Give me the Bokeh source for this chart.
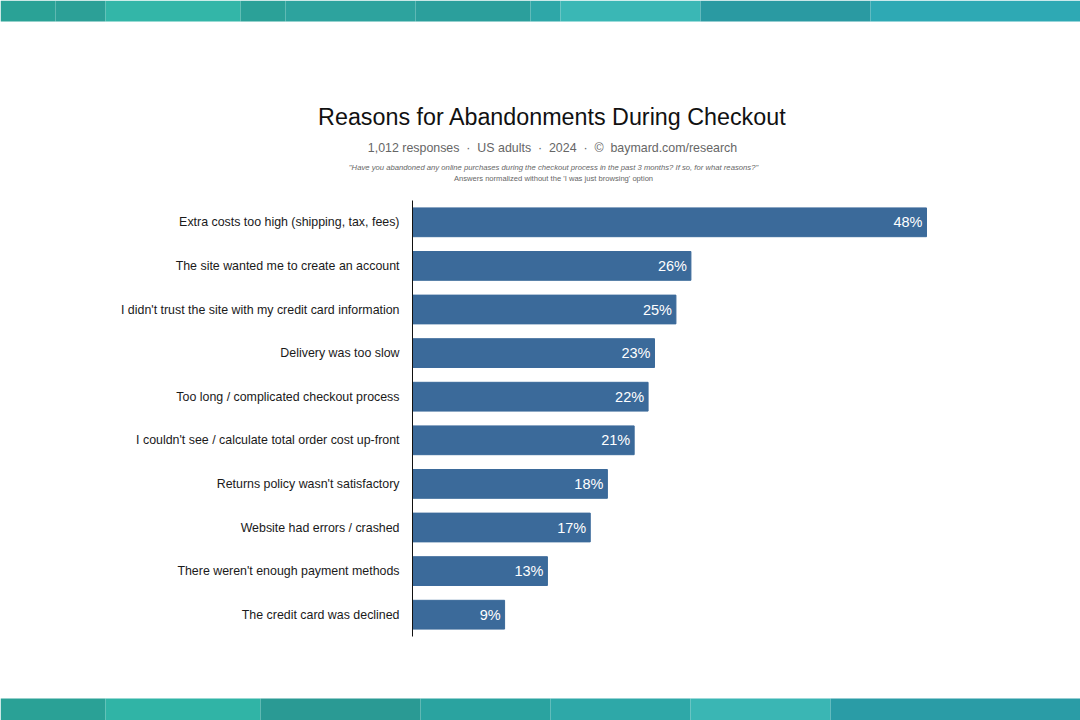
from bokeh.plotting import figure
from bokeh.models import Range1d, ColumnDataSource, Label, BoxAnnotation
from bokeh.embed import file_html
from bokeh.resources import INLINE
from bokeh.core.properties import value

# ---- data ----
reasons = [
    "Extra costs too high (shipping, tax, fees)",
    "The site wanted me to create an account",
    "I didn't trust the site with my credit card information",
    "Delivery was too slow",
    "Too long / complicated checkout process",
    "I couldn't see / calculate total order cost up-front",
    "Returns policy wasn't satisfactory",
    "Website had errors / crashed",
    "There weren't enough payment methods",
    "The credit card was declined",
]
shares = [48.0, 26.0, 24.6, 22.6, 22.0, 20.7, 18.2, 16.6, 12.6, 8.6]
share_labels = ["48%", "26%", "25%", "23%", "22%", "21%", "18%", "17%", "13%", "9%"]

SEP = "\u00a0\u00a0\u00b7\u00a0\u00a0"
title_text = "Reasons for Abandonments During Checkout"
subtitle_text = SEP.join(["1,012 responses", "US adults", "2024", "\u00a9\u00a0\u00a0baymard.com/research"])
question_text = "\"Have you abandoned any online purchases during the checkout process in the past 3 months? If so, for what reasons?\""
note_text = "Answers normalized without the 'I was just browsing' option"

# decorative teal bands (canvas pixels)
band_top_edges = [0, 55, 105, 240, 285, 415, 530, 560, 700, 870, 1080]
band_top_colors = ["#2aa296", "#2ca097", "#33b6a8", "#2ba198", "#2da39e", "#2b9f9c",
                   "#2ea7a8", "#3ab7b5", "#2a9aa2", "#2ea9b4"]
band_bot_edges = [0, 105, 260, 420, 550, 690, 830, 1080]
band_bot_colors = ["#2aa196", "#30b4a6", "#2a9a94", "#2aa3a0", "#2ea8a8", "#3ab6b4", "#2a9ca6"]

FONT = "Liberation Sans"
W, H = 1080, 720
AX_X, AX_TOP, AX_BOT = 412, 200, 636     # where the value axis sits on the canvas
px_per_unit = 514 / 48.0                 # horizontal scale: pixels per percentage point
n = len(reasons)
slot_px = (AX_BOT - AX_TOP) / n          # vertical pixels per category

slot = list(range(n))                    # category index, top to bottom

x_range = Range1d(-AX_X / px_per_unit, (W - AX_X) / px_per_unit)
y_range = Range1d((H - AX_TOP) / slot_px - 0.5, -AX_TOP / slot_px - 0.5)

p = figure(width=W, height=H, x_range=x_range, y_range=y_range,
           output_backend="svg", toolbar_location=None, min_border=0)
p.axis.visible = False
p.grid.visible = False
p.outline_line_color = None
p.background_fill_color = "white"
p.border_fill_color = "white"


def add_band(edges, colors, top, bottom):
    for l, r, c in zip(edges[:-1], edges[1:], colors):
        p.add_layout(BoxAnnotation(left=l, right=r, top=top, bottom=bottom,
                                   left_units="canvas", right_units="canvas",
                                   top_units="canvas", bottom_units="canvas",
                                   fill_color=c, fill_alpha=1.0, line_color=None))


add_band(band_top_edges, band_top_colors, 0, 21)
add_band(band_bot_edges, band_bot_colors, 698, 720)

src = ColumnDataSource(dict(reason=reasons, slot=slot, share=shares, lab=share_labels))
p.hbar(y="slot", right="share", left=0, height=0.66, source=src,
       fill_color="#3b6a9a", line_color="#3b6a9a")
p.text(x="share", y="slot", text="lab", source=src, text_align="right",
       text_baseline="middle", x_offset=-4, text_color="white",
       text_font=value(FONT), text_font_size="14.5px")

# category axis: labels and axis line
p.text(x=0, y="slot", text="reason", source=src, text_align="right",
       text_baseline="middle", x_offset=-13, text_color="#1a1a1a",
       text_font=value(FONT), text_font_size="12.4px")
p.segment(x0=[0], x1=[0], y0=[-0.5], y1=[n - 0.5], line_color="#111111", line_width=1)


def lab(cx, cy, text, size, color, style="normal"):
    p.add_layout(Label(x=cx, y=cy, x_units="canvas", y_units="canvas", text=text,
                       text_align="center", text_baseline="middle", text_font=FONT,
                       text_font_size=size, text_color=color, text_font_style=style))


lab(552, 116, title_text, "23.3px", "#111111")
lab(552, 147, subtitle_text, "12.4px", "#666666")
lab(553, 167, question_text, "7.7px", "#666666", "italic")
lab(553, 178, note_text, "7.6px", "#666666")

open("out.html", "w").write(file_html(p, INLINE))
